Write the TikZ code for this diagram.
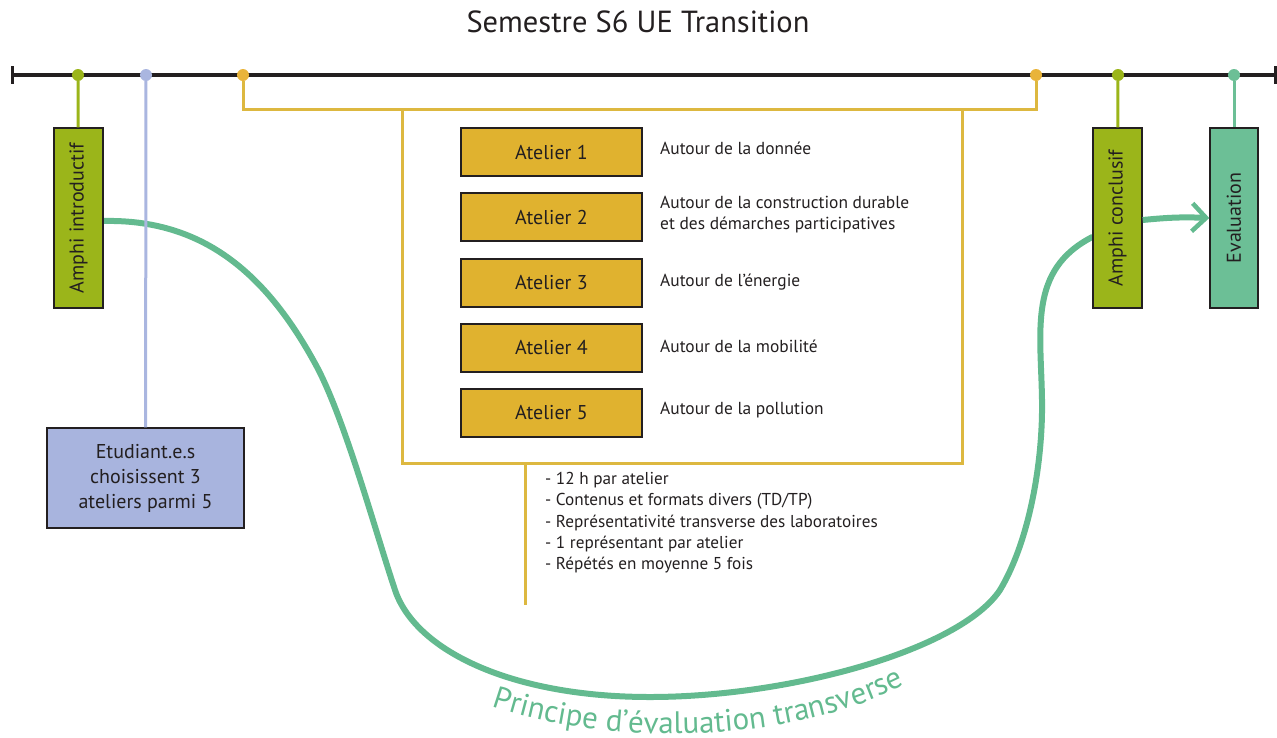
\documentclass[tikz,border=0pt]{standalone}
\usepackage{fontspec}
\setmainfont{PT Sans}
\usetikzlibrary{arrows.meta,decorations.text,backgrounds}

\definecolor{ink}{HTML}{231F20}
\definecolor{olive}{HTML}{9BB51A}
\definecolor{lavfill}{HTML}{A8B4DE}
\definecolor{lavline}{HTML}{AAB6E0}
\definecolor{goldline}{HTML}{DDB840}
\definecolor{goldfill}{HTML}{E0B22F}
\definecolor{golddot}{HTML}{E9B43A}
\definecolor{tealfill}{HTML}{6CBF96}
\definecolor{tealline}{HTML}{63BA8F}

\newcommand{\fsz}[1]{\fontsize{#1}{#1}\selectfont}

\tikzset{
  dot/.style={circle, inner sep=0pt, minimum size=12pt},
  stem/.style={line width=3pt},
  boxbase/.style={draw=ink, line width=1.4pt, inner sep=0pt, text=ink},
  amphibox/.style={boxbase, fill=olive, minimum width=49pt, minimum height=180pt, font=\fsz{20}},
  evalbox/.style={boxbase, fill=tealfill, minimum width=48pt, minimum height=180pt, font=\fsz{20}},
  atelierbox/.style={boxbase, fill=goldfill, minimum width=181pt, minimum height=48pt, font=\fsz{20}},
  desc/.style={anchor=west, inner sep=0pt, text=ink, font=\fsz{17.4}, align=left},
  flow/.style={line width=6pt, tealline, line cap=round},
}

\begin{document}
\begin{tikzpicture}[x=1pt, y=-1pt]
\useasboundingbox (0,0) rectangle (1277,737);

% title
\node[text=ink, font=\fsz{30.5}] (title) at (638,22) {Semestre S6 UE Transition};

% time line with end ticks
\coordinate (tl) at (12,75);
\coordinate (tr) at (1275,75);
\draw[ink, line width=4pt] (tl) -- (tr);
\draw[ink, line width=3pt] ([yshift=9pt]tl) -- ([yshift=-9pt]tl);
\draw[ink, line width=3pt] ([yshift=9pt]tr) -- ([yshift=-9pt]tr);

% milestones on the time line
\node[dot, fill=olive]   (d1) at (78,75) {};
\node[dot, fill=lavline] (d2) at (146,75) {};
\node[dot, fill=golddot] (d3) at (243,75) {};
\node[dot, fill=golddot] (d4) at (1036,75) {};
\node[dot, fill=olive]   (d5) at (1118,75) {};
\node[dot, fill=tealfill](d6) at (1234,75) {};

% amphitheatres and evaluation
\node[amphibox] (ai) at (78.5,218) {\rotatebox{90}{Amphi introductif}};
\node[amphibox] (ac) at (1117.5,218) {\rotatebox{90}{Amphi conclusif}};
\node[evalbox]  (ev) at (1234,218) {\rotatebox{90}{Evaluation}};

% the transverse evaluation curve, from the opening to the closing lecture
\begin{scope}[on background layer]
\draw[flow]
  ([yshift=-3pt]ai.east)
     .. controls (200,219) and (265,270) .. (317,367)
     .. controls (345,420) and (375,530) .. (395,590)
     .. controls (415,650) and (510,697) .. (650,697)
     .. controls (790,697) and (960,650) .. (1000,590)
     .. controls (1030,540) and (1043,460) .. (1042,400)
     .. controls (1041,330) and (1028,270) .. ([yshift=-19pt]ac.west);
\end{scope}

\draw[stem, olive] (d1) -- (ai);
\draw[stem, olive] (d5) -- (ac);
\draw[stem, tealfill] (d6) -- (ev);

% student choice
\node[boxbase, fill=lavfill, minimum width=197pt, minimum height=100pt,
      align=center, font=\fontsize{20}{25}\selectfont] (et) at (145.5,478)
  {Etudiant.e.s\\choisissent 3\\ateliers parmi 5};
\draw[stem, lavline] (d2) -- (et);

% workshop block
\node[draw=goldline, line width=3pt, minimum width=560pt, minimum height=354pt,
      inner sep=0pt] (blk) at (682,286) {};
\coordinate (bl) at (243,109);
\coordinate (br) at (1036,109);
\draw[stem, goldline, line join=miter] (d3) -- (bl) -- (br) -- (d4);

\node[atelierbox] (a1) at (551.5,152) {Atelier 1};
\node[atelierbox] (a2) at (551.5,217) {Atelier 2};
\node[atelierbox] (a3) at (551.5,283) {Atelier 3};
\node[atelierbox] (a4) at (551.5,348) {Atelier 4};
\node[atelierbox] (a5) at (551.5,413) {Atelier 5};

\node[desc] (t1) at (660,148) {Autour de la donnée};
\node[desc, font=\fontsize{17.4}{21}\selectfont] (t2) at (660,215) {Autour de la construction durable\\et des démarches participatives};
\node[desc] (t3) at (660,282) {Autour de l’énergie};
\node[desc] (t4) at (660,346) {Autour de la mobilité};
\node[desc] (t5) at (660,410) {Autour de la pollution};

% workshop details
\coordinate (tail) at (525,605);
\draw[stem, goldline] (blk.south -| tail) -- (tail);
\node[desc, anchor=north west, font=\fontsize{17.2}{21.3}\selectfont] (notes) at (545,472)
  {- 12 h par atelier\\
   - Contenus et formats divers (TD/TP)\\
   - Représentativité transverse des laboratoires\\
   - 1 représentant par atelier\\
   - Répétés en moyenne 5 fois};

% conclusion to evaluation
\draw[flow, line cap=butt, -{Straight Barb[length=14pt, width=28pt, line width=4.5pt]}]
  ([yshift=-2pt]ac.east) to[bend left=4] (ev.west);

% label of the curve
\path[decorate, decoration={text along path, text align=center,
      text={|\fsz{31}\color{tealline}|Principe d’évaluation transverse}}]
  (470,698) .. controls (590,749) and (800,749) .. (925,674);
\end{tikzpicture}
\end{document}
